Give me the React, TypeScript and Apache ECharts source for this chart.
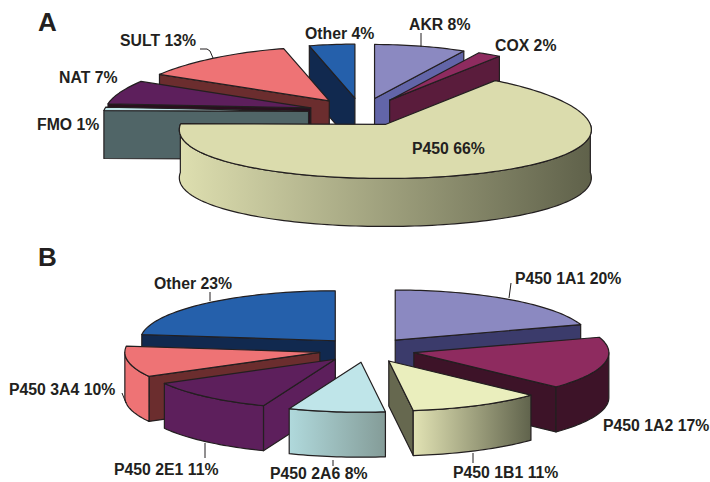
import React, { useEffect, useRef } from "react";
import * as echarts from "echarts";

// Panel A: enzyme families
const categoriesA = ["AKR", "COX", "P450", "FMO", "NAT", "SULT", "Other"];
const valuesA = [8, 2, 66, 1, 7, 13, 4];
const topColorsA = ["#8b89c1", "#8e2b5f", "#dbdcad", "#bfe5e9", "#5d1f5c", "#ee7375", "#2560ab"];
const cutColorsA = ["#6265a8", "#5a1c3c", "#5f614a", "#506567", "#2a0f1e", "#6b2d2e", "#11294f"];
const rimColorsA = ["#6265a8", "#5a1c3c", ["#dedfb0", "#5f614a"], "#506567", "#2a0f1e", "#6b2d2e", "#11294f"];

// Panel B: P450 isoforms
const categoriesB = ["P450 1A1", "P450 1A2", "P450 1B1", "P450 2A6", "P450 2E1", "P450 3A4", "Other"];
const valuesB = [20, 17, 11, 8, 11, 10, 23];
const topColorsB = ["#8b89c1", "#8e2b5f", "#eaeebd", "#bfe5e9", "#5d1f5c", "#ee7375", "#2560ab"];
const cutColorsB = ["#3b3b6b", "#3d1328", "#66684f", "#849c98", "#5d1f5c", "#6b2d2e", "#11294f"];
const rimColorsB = ["#3b3b6b", "#3d1328", ["#e2e3b4", "#60634c"], ["#b0d9dc", "#849c98"], "#5d1f5c", "#ee7375", "#11294f"];

// Label anchors: [left x, middle y] in the same order as the categories
const labelPosA = [[409, 24], [495, 45], [412, 148], [37, 124], [59, 77], [120, 40], [305, 33]];
const labelPosB = [[515, 278], [603, 425], [453, 472], [270, 473.8], [114, 469], [9, 389], [154, 283]];

const INK = "#231f20";
const LABEL_FONT = "bold 15.8px 'Liberation Sans', Arial, sans-serif";
const PANEL_FONT = "bold 26px 'Liberation Sans', Arial, sans-serif";

type PieConfig = {
  values: number[];
  tops: string[];
  cuts: string[];
  rims: (string | string[])[];
  cx: number;
  cy: number;
  rx: number;
  ry: number;
  depth: number;
  explode: number;
  perspective: number;
};

const rad = (deg: number) => (deg * Math.PI) / 180;

// One exploded 3D pie, drawn as a custom series; angles run clockwise from 12 o'clock.
function pieSeries(cfg: PieConfig) {
  const { values, tops, cuts, rims, cx, cy, rx, ry, depth, explode, perspective } = cfg;
  const total = values.reduce((a, b) => a + b, 0);
  let acc = 0;
  const slices = values.map((v) => {
    const start = acc;
    acc += (v / total) * 360;
    const mid = (start + acc) / 2;
    return {
      start,
      end: acc,
      ax: cx + explode * Math.sin(rad(mid)),
      ay: cy - ((explode * ry) / rx) * Math.cos(rad(mid)),
    };
  });
  // Painter's order: slices further back are drawn first
  const order = slices.map((_, i) => i).sort((a, b) => slices[a].ay - slices[b].ay);

  const rim = (i: number, deg: number) => {
    const s = slices[i];
    const dy = -ry * Math.cos(rad(deg));
    const k = 1 + (perspective * dy) / ry;
    return [s.ax + rx * Math.sin(rad(deg)) * k, s.ay + dy];
  };
  const arc = (i: number, from: number, to: number) => {
    const steps = Math.max(2, Math.ceil(Math.abs(to - from) / 1.5));
    const pts: number[][] = [];
    for (let n = 0; n <= steps; n++) pts.push(rim(i, from + ((to - from) * n) / steps));
    return pts;
  };
  const down = (p: number[]) => [p[0], p[1] + depth];
  const face = (points: number[][], fill: any) => ({
    type: "polygon",
    silent: true,
    shape: { points },
    style: { fill, stroke: INK, lineWidth: 1.2, lineJoin: "round" },
  });

  return {
    type: "custom",
    coordinateSystem: "none",
    silent: true,
    data: order.map((i) => [values[i], i]),
    renderItem: (_params: any, api: any) => {
      const i = api.value(1);
      const s = slices[i];
      const apex = [s.ax, s.ay];
      const children: any[] = [];
      const addCut = (deg: number, normal: number) => {
        if (Math.cos(rad(normal)) >= 0) return;
        const p = rim(i, deg);
        children.push(face([apex, p, down(p), down(apex)], cuts[i]));
      };
      addCut(s.start, s.start - 90);
      addCut(s.end, s.end + 90);
      const from = Math.max(s.start, 90);
      const to = Math.min(s.end, 270);
      if (to > from) {
        const edge = arc(i, from, to);
        const c = rims[i];
        const fill = Array.isArray(c)
          ? new echarts.graphic.LinearGradient(0, 0, 1, 0, [
              { offset: 0, color: c[0] },
              { offset: 1, color: c[1] },
            ])
          : c;
        children.push(face([...edge, ...edge.map(down).reverse()], fill));
      }
      children.push(face([apex, ...arc(i, s.start, s.end)], tops[i]));
      return { type: "group", children };
    },
  };
}

const labelsOf = (names: string[], values: number[], pos: number[][]) =>
  names.map((n, i) => ({
    type: "text",
    x: pos[i][0],
    y: pos[i][1],
    z: 100,
    style: {
      text: `${n} ${values[i]}%`,
      font: LABEL_FONT,
      fill: INK,
      textVerticalAlign: "middle",
    },
  }));

const leader = (points: number[][]) => ({
  type: "polyline",
  z: 99,
  shape: { points },
  style: { stroke: INK, lineWidth: 1, fill: "none" },
});

// Short connector lines between labels and slices
const leaders = [
  [[200, 49], [207, 49], [210, 51], [213, 58]],
  [[421, 33], [421, 47]],
  [[210, 292], [210, 301]],
  [[511, 283], [509, 298]],
  [[122, 393], [126, 403]],
  [[205, 443], [205, 458]],
  [[333, 460], [333, 466]],
  [[473, 453], [473, 463]],
];

export default function App() {
  const ref = useRef<HTMLDivElement>(null);
  useEffect(() => {
    const chart = echarts.init(ref.current!, undefined, { renderer: "svg" });
    chart.setOption({
      animation: false,
      backgroundColor: "#ffffff",
      series: [
        pieSeries({
          values: valuesA, tops: topColorsA, cuts: cutColorsA, rims: rimColorsA,
          cx: 361.5, cy: 112, rx: 205, ry: 54, depth: 48, explode: 53, perspective: 0.1,
        }),
        pieSeries({
          values: valuesB, tops: topColorsB, cuts: cutColorsB, rims: rimColorsB,
          cx: 367, cy: 350, rx: 195, ry: 50, depth: 45, explode: 48, perspective: 0,
        }),
      ],
      graphic: [
        { type: "text", x: 38, y: 22, z: 100, style: { text: "A", font: PANEL_FONT, fill: INK, textVerticalAlign: "middle" } },
        { type: "text", x: 38, y: 257, z: 100, style: { text: "B", font: PANEL_FONT, fill: INK, textVerticalAlign: "middle" } },
        ...labelsOf(categoriesA, valuesA, labelPosA),
        ...labelsOf(categoriesB, valuesB, labelPosB),
        ...leaders.map(leader),
      ],
    });
    return () => chart.dispose();
  }, []);
  return <div ref={ref} style={{ position: "fixed", left: 0, top: 0, width: 710, height: 482 }} />;
}
